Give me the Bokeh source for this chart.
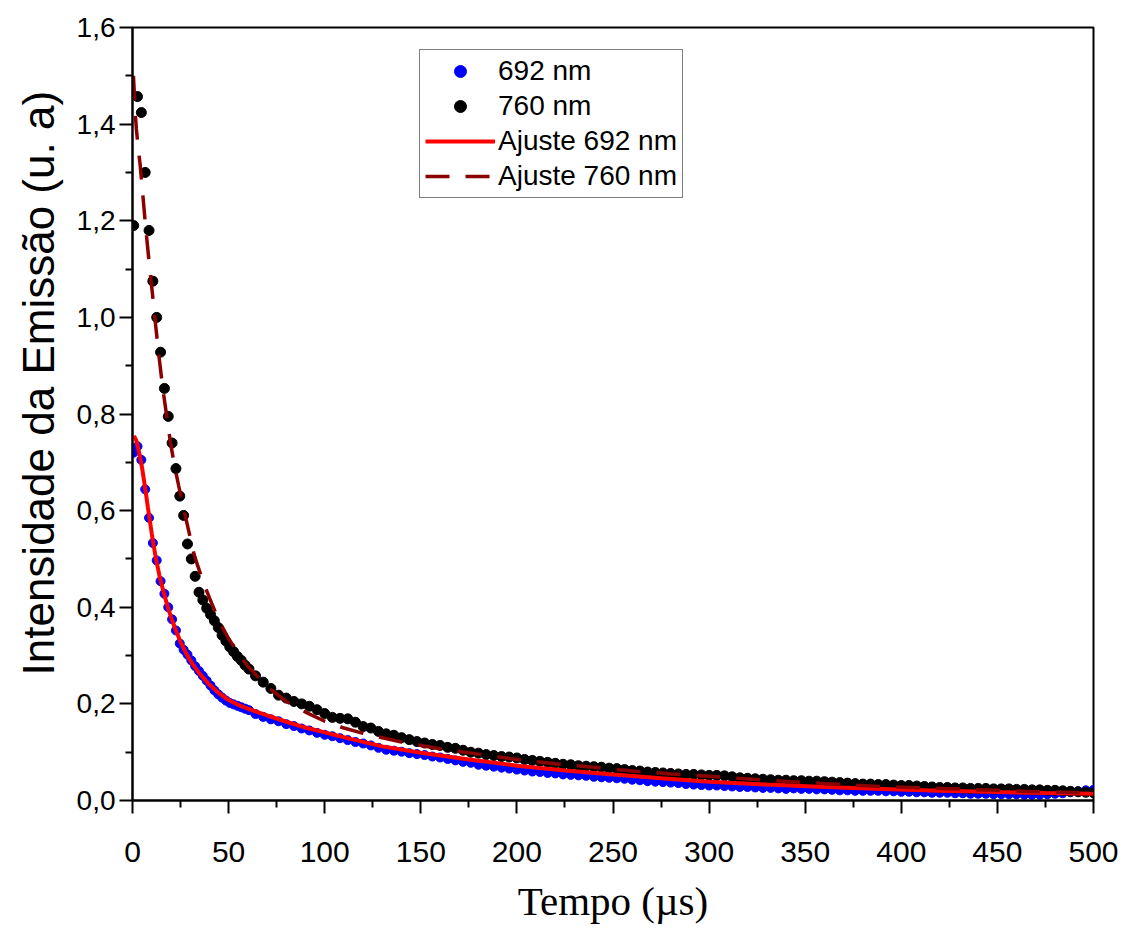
from bokeh.plotting import figure
from bokeh.models import (ColumnDataSource, FixedTicker, Legend, LegendItem,
                          Range1d, CustomJSTickFormatter, Title)
from bokeh.embed import file_html
from bokeh.resources import INLINE

# ---------------- data ----------------
t_early = [0.6, 2.6, 4.6, 6.6, 8.6, 10.6, 12.6, 14.6, 16.6, 18.6,
           20.6, 22.6, 24.6, 26.6, 28.6, 30.6, 32.6, 34.6, 36.6, 38.6,
           40.6, 42.6, 44.6, 46.6, 48.6, 50.6, 52.6, 54.6, 56.6, 58.6, 60.6]
t_late = [64, 68, 72, 76, 80, 84, 88, 92, 96, 100,
          104, 108, 112, 116, 120, 124, 128, 132, 136, 140,
          144, 148, 152, 156, 160, 164, 168, 172, 176, 180,
          184, 188, 192, 196, 200, 204, 208, 212, 216, 220,
          224, 228, 232, 236, 240, 244, 248, 252, 256, 260,
          264, 268, 272, 276, 280, 284, 288, 292, 296, 300,
          304, 308, 312, 316, 320, 324, 328, 332, 336, 340,
          344, 348, 352, 356, 360, 364, 368, 372, 376, 380,
          384, 388, 392, 396, 400, 404, 408, 412, 416, 420,
          424, 428, 432, 436, 440, 444, 448, 452, 456, 460,
          464, 468, 472, 476, 480, 484, 488, 492, 496, 500]
tempo = t_early + t_late

em692 = [0.720, 0.733, 0.705, 0.644, 0.585, 0.533, 0.497, 0.454, 0.428, 0.400,
         0.375, 0.352, 0.325, 0.312, 0.302, 0.290, 0.278, 0.268, 0.258, 0.248,
         0.238, 0.228, 0.220, 0.213, 0.207, 0.202, 0.199, 0.196, 0.193, 0.190, 0.187,
         0.179, 0.173, 0.168, 0.164, 0.158, 0.154, 0.149, 0.145, 0.140, 0.136,
         0.133, 0.129, 0.125, 0.121, 0.118, 0.114, 0.109, 0.105, 0.103, 0.101,
         0.098, 0.096, 0.094, 0.091, 0.089, 0.086, 0.083, 0.080, 0.078, 0.074,
         0.072, 0.070, 0.068, 0.066, 0.064, 0.062, 0.060, 0.059, 0.057, 0.056,
         0.054, 0.053, 0.052, 0.051, 0.049, 0.048, 0.047, 0.046, 0.045, 0.043,
         0.042, 0.040, 0.039, 0.038, 0.037, 0.036, 0.034, 0.033, 0.032, 0.031,
         0.031, 0.030, 0.029, 0.028, 0.028, 0.027, 0.026, 0.026, 0.025, 0.024,
         0.025, 0.024, 0.024, 0.023, 0.023, 0.022, 0.021, 0.021, 0.020, 0.020,
         0.020, 0.020, 0.019, 0.019, 0.018, 0.018, 0.017, 0.017, 0.016, 0.016,
         0.016, 0.015, 0.015, 0.014, 0.014, 0.014, 0.013, 0.013, 0.013, 0.013,
         0.012, 0.012, 0.012, 0.013, 0.014, 0.015, 0.017, 0.019, 0.021, 0.022]

em760 = [1.190, 1.457, 1.424, 1.300, 1.180, 1.075, 1.000, 0.928, 0.853, 0.795,
         0.740, 0.687, 0.630, 0.590, 0.531, 0.500, 0.464, 0.431, 0.415, 0.398,
         0.385, 0.372, 0.358, 0.342, 0.330, 0.318, 0.308, 0.298, 0.290, 0.280, 0.272,
         0.258, 0.245, 0.232, 0.218, 0.212, 0.205, 0.200, 0.195, 0.188, 0.180,
         0.172, 0.170, 0.169, 0.162, 0.153, 0.150, 0.143, 0.138, 0.135, 0.130,
         0.126, 0.122, 0.119, 0.116, 0.114, 0.110, 0.108, 0.104, 0.100, 0.098,
         0.095, 0.093, 0.091, 0.090, 0.088, 0.085, 0.083, 0.081, 0.079, 0.077,
         0.075, 0.074, 0.072, 0.071, 0.070, 0.069, 0.067, 0.066, 0.064, 0.062,
         0.061, 0.059, 0.058, 0.057, 0.056, 0.055, 0.054, 0.054, 0.053, 0.052,
         0.052, 0.051, 0.049, 0.047, 0.046, 0.045, 0.044, 0.043, 0.042, 0.042,
         0.041, 0.041, 0.040, 0.040, 0.039, 0.038, 0.037, 0.036, 0.035, 0.034,
         0.034, 0.033, 0.033, 0.032, 0.031, 0.031, 0.030, 0.029, 0.028, 0.027,
         0.027, 0.026, 0.026, 0.025, 0.025, 0.025, 0.024, 0.024, 0.024, 0.023,
         0.023, 0.022, 0.022, 0.021, 0.021, 0.020, 0.019, 0.018, 0.017, 0.016]

fit692_t = [0.8, 2, 3, 4, 5, 6, 7, 8, 9, 10,
            11, 12, 13, 14, 15, 16, 18, 20, 22, 25,
            28, 31, 35, 40, 45, 50, 55, 60, 70, 80,
            90, 100, 115, 130, 150, 175, 200, 225, 250, 275,
            300, 330, 360, 390, 420, 450, 475, 500]
fit692_y = [0.755, 0.745, 0.728, 0.710, 0.688, 0.662, 0.635, 0.607, 0.580, 0.553,
            0.528, 0.505, 0.485, 0.466, 0.449, 0.434, 0.405, 0.380, 0.358, 0.328,
            0.304, 0.284, 0.262, 0.240, 0.222, 0.208, 0.198, 0.190, 0.176, 0.163,
            0.151, 0.141, 0.126, 0.112, 0.099, 0.085, 0.072, 0.062, 0.054, 0.046,
            0.039, 0.033, 0.028, 0.024, 0.020, 0.0175, 0.0155, 0.014]

fit760_t = [0.5, 1, 1.5, 2, 3, 4, 5, 6, 7, 8,
            9, 10, 11, 12, 13, 14, 15, 16, 17, 18,
            19, 20, 22, 24, 26, 28, 30, 32, 34, 36,
            38, 40, 45, 50, 55, 60, 70, 80, 90, 100,
            110, 120, 130, 140, 160, 180, 200, 220, 240, 260,
            280, 300, 330, 360, 390, 420, 450, 475, 500]
fit760_y = [1.500, 1.460, 1.420, 1.390, 1.350, 1.315, 1.270, 1.225, 1.180, 1.140,
            1.100, 1.063, 1.025, 0.985, 0.948, 0.912, 0.878, 0.846, 0.818, 0.790,
            0.762, 0.735, 0.690, 0.652, 0.615, 0.580, 0.545, 0.510, 0.485, 0.462,
            0.440, 0.420, 0.372, 0.335, 0.305, 0.278, 0.236, 0.205, 0.183, 0.164,
            0.150, 0.139, 0.130, 0.121, 0.107, 0.096, 0.085, 0.076, 0.069, 0.061,
            0.055, 0.050, 0.042, 0.035, 0.029, 0.025, 0.021, 0.018, 0.015]

x_ticks = [0, 50, 100, 150, 200, 250, 300, 350, 400, 450, 500]
x_minor = [25, 75, 125, 175, 225, 275, 325, 375, 425, 475]
y_ticks = [0.0, 0.2, 0.4, 0.6, 0.8, 1.0, 1.2, 1.4, 1.6]
y_minor = [0.1, 0.3, 0.5, 0.7, 0.9, 1.1, 1.3, 1.5]

labels = ["692 nm", "760 nm", "Ajuste 692 nm", "Ajuste 760 nm"]
x_title = "Tempo (µs)"
y_title = "Intensidade da Emissão (u. a)"

# ---------------- figure ----------------
p = figure(width=1130, height=929, output_backend="svg", toolbar_location=None,
           x_range=Range1d(0, 500), y_range=Range1d(0, 1.6),
           min_border_left=131, min_border_right=37,
           min_border_top=27, min_border_bottom=129)
p.background_fill_color = "white"
p.border_fill_color = "white"
p.outline_line_color = "black"
p.outline_line_width = 2
p.xgrid.visible = False
p.ygrid.visible = False

src = ColumnDataSource(dict(t=tempo, a=em692, b=em760))
r_blue = p.scatter("t", "a", source=src, size=9, marker="circle",
                   fill_color="#0000FF", line_color="#0000FF")
r_black = p.scatter("t", "b", source=src, size=10, marker="circle",
                    fill_color="black", line_color="black")
r_fit1 = p.line(fit692_t, fit692_y, line_color="#FF0000", line_width=4)
r_fit2 = p.line(fit760_t, fit760_y, line_color="#8B0000", line_width=3.5,
                line_dash="24 16")

for ax, ticks, minor in ((p.xaxis[0], x_ticks, x_minor), (p.yaxis[0], y_ticks, y_minor)):
    ax.ticker = FixedTicker(ticks=ticks, minor_ticks=minor)
    ax.axis_line_width = 2
    ax.axis_line_color = "black"
    ax.major_tick_line_width = 2
    ax.minor_tick_line_width = 2
    ax.major_tick_in = 0
    ax.minor_tick_in = 0
    ax.major_tick_out = 13
    ax.minor_tick_out = 7
    ax.major_label_text_font = "Liberation Sans"
    ax.major_label_text_color = "black"
    ax.axis_label_text_font_style = "normal"
    ax.axis_label_text_color = "black"

p.yaxis[0].formatter = CustomJSTickFormatter(code="return tick.toFixed(1).replace('.', ',');")
p.yaxis[0].major_label_text_font_size = "28px"
p.yaxis[0].major_label_standoff = 4

# y title as a left-side title, starting 125 px above the frame bottom like the original
p.add_layout(Title(text=y_title, align="left", offset=125, standoff=22,
                   text_font="Liberation Sans", text_font_size="44px",
                   text_font_style="normal", text_color="black"), "left")

p.xaxis[0].major_label_text_font_size = "30px"
p.xaxis[0].major_label_standoff = 28
p.xaxis[0].axis_label = x_title
p.xaxis[0].axis_label_text_font = "Liberation Serif"
p.xaxis[0].axis_label_text_font_size = "41px"
p.xaxis[0].axis_label_standoff = 13

legend = Legend(items=[LegendItem(label=labels[0], renderers=[r_blue]),
                       LegendItem(label=labels[1], renderers=[r_black]),
                       LegendItem(label=labels[2], renderers=[r_fit1]),
                       LegendItem(label=labels[3], renderers=[r_fit2])],
                location=(287, 602))
legend.margin = 0
legend.padding = 5
legend.spacing = 3
legend.glyph_width = 70
legend.glyph_height = 30
legend.label_standoff = 3
legend.label_text_font = "Liberation Sans"
legend.label_text_font_size = "28px"
legend.label_height = 30
legend.label_text_color = "black"
legend.border_line_color = "black"
legend.border_line_width = 1
legend.background_fill_alpha = 1
p.add_layout(legend, "center")

open("out.html", "w").write(file_html(p, INLINE))
